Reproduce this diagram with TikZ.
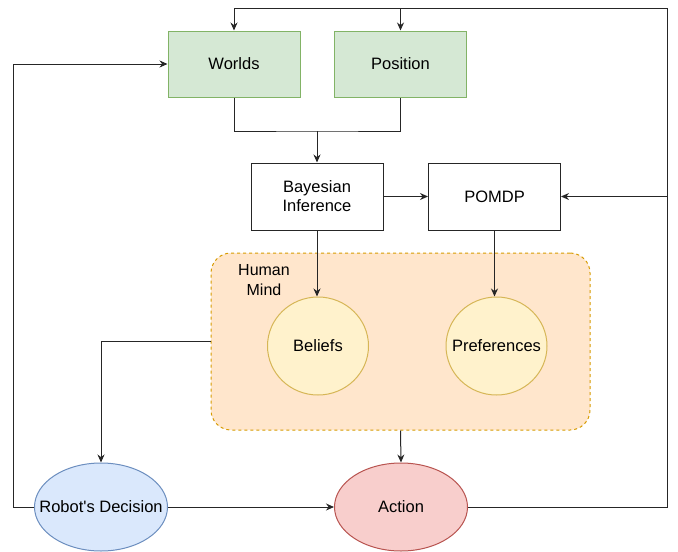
\documentclass[tikz,border=0pt]{standalone}
\usepackage{fontspec}
\defaultfontfeatures[\rmfamily]{}
\setmainfont{Liberation Sans}
\usetikzlibrary{arrows.meta,shapes.geometric}
\definecolor{gfill}{HTML}{D5E8D4}\definecolor{gline}{HTML}{82B366}
\definecolor{yfill}{HTML}{FFF2CC}\definecolor{yline}{HTML}{D6B656}
\definecolor{ofill}{HTML}{FFE6CC}\definecolor{oline}{HTML}{D79B00}
\definecolor{bfill}{HTML}{DAE8FC}\definecolor{bline}{HTML}{6C8EBF}
\definecolor{rfill}{HTML}{F8CECC}\definecolor{rline}{HTML}{B85450}
\begin{document}
\begin{tikzpicture}[x=1pt,y=-1pt,
  font=\fontsize{16.5}{19}\selectfont,
  conn/.style={draw=black!85,line width=1pt,-{Stealth[length=8pt,width=7pt]}},
  plain/.style={draw=black!85,line width=1pt},
  greenbox/.style={draw=gline,fill=gfill,line width=1pt,minimum width=132pt,minimum height=66pt,inner sep=0pt},
  whitebox/.style={draw=black!85,fill=white,line width=1pt,minimum width=132pt,minimum height=67pt,inner sep=0pt,align=center},
  yell/.style={ellipse,draw=yline,fill=yfill,line width=1pt,minimum width=101pt,minimum height=98pt,inner sep=0pt},
  bigell/.style={ellipse,line width=1pt,minimum width=133pt,minimum height=88pt,inner sep=0pt}]
\useasboundingbox (0,0) rectangle (678,552);
% human mind container
\node[draw=oline,fill=ofill,dashed,line width=1pt,rounded corners=20pt,minimum width=379pt,minimum height=177pt,inner sep=0pt] (mind) at (400.5,341.5) {};
\node[align=center,font=\fontsize{16}{20}\selectfont] (mindlbl) at (264,280) {Human\\Mind};
\node[greenbox] (worlds) at (234,64) {Worlds};
\node[greenbox] (pos) at (400.5,64) {Position};
\node[whitebox] (bayes) at (317,196.5) {Bayesian\\Inference};
\node[whitebox] (pomdp) at (494.5,196.5) {POMDP};
\node[yell,label=center:Beliefs] (beliefs) at (318,346) {};
\node[yell,label=center:Preferences] (prefs) at (496.5,346) {};
\node[bigell,draw=bline,fill=bfill,label=center:Robot's Decision] (robot) at (101,507) {};
\node[bigell,draw=rline,fill=rfill,label=center:Action] (action) at (401,507) {};
\coordinate (tr) at (667,8);
\coordinate (tl) at (234,8);
\coordinate (bl) at (13,507);
\coordinate (br) at (667,507);
\coordinate (mid) at (317,131);
% connectors
\draw[plain] (worlds.south) |- (mid) -| (pos.south);
\draw[conn] (mid) -- (bayes.north);
\draw[conn] (bayes.east) -- (pomdp.west);
\draw[conn] (bayes.south) -- (bayes.south |- beliefs.north);
\draw[conn] (pomdp.south) -- (pomdp.south |- prefs.north);
\draw[conn] (mind.west) -| (robot.north);
\draw[conn] (mind.south) -- (action.north);
\draw[conn] (robot.east) -- (action.west);
\draw[plain] (action.east) -- (br) -- (tr) -- (tl);
\draw[conn] (tl) -- (worlds.north);
\draw[conn] (pos.north |- tl) -- (pos.north);
\draw[conn] (pomdp.east -| tr) -- (pomdp.east);
\draw[conn] (robot.west) -- (bl) |- (worlds.west);
\end{tikzpicture}
\end{document}
